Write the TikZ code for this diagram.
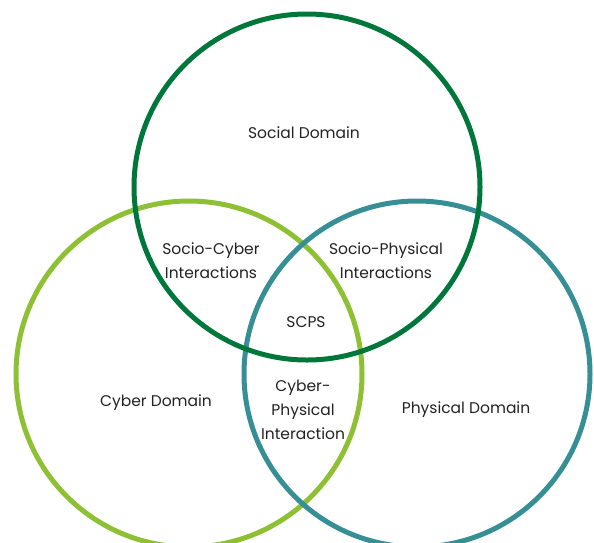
\documentclass[tikz,border=0pt]{standalone}
\usepackage{fontspec}
\setmainfont{Poppins}
\definecolor{socialc}{HTML}{00773A}
\definecolor{cyberc}{HTML}{8DC033}
\definecolor{physc}{HTML}{368F94}
\definecolor{txt}{HTML}{222222}
\begin{document}
\begin{tikzpicture}[x=1pt,y=-1pt,
  ring/.style={line width=5pt},
  lbl/.style={font=\fontsize{15.5}{24}\selectfont, text=txt, align=center, inner sep=0pt}]
\useasboundingbox (0,0) rectangle (594,542);
\begin{scope}
\clip (0,0) rectangle (594,542);
\draw[ring, cyberc] (189,374) circle (173);
\draw[ring, physc] (417,374) circle (173);
\draw[ring, socialc] (307,187) circle (173);
\end{scope}
\node[lbl] (social) at (304,132.5) {Social Domain};
\node[lbl] (sc) at (211,260.5) {Socio-Cyber\\Interactions};
\node[lbl] (sp) at (386,260.5) {Socio-Physical\\Interactions};
\node[lbl] (scps) at (306,322.5) {SCPS};
\node[lbl] (cyber) at (156,402.5) {Cyber Domain};
\node[lbl] (cp) at (303,409.5) {Cyber-\\Physical\\Interaction};
\node[lbl] (phys) at (466,409.5) {Physical Domain};
\end{tikzpicture}
\end{document}
